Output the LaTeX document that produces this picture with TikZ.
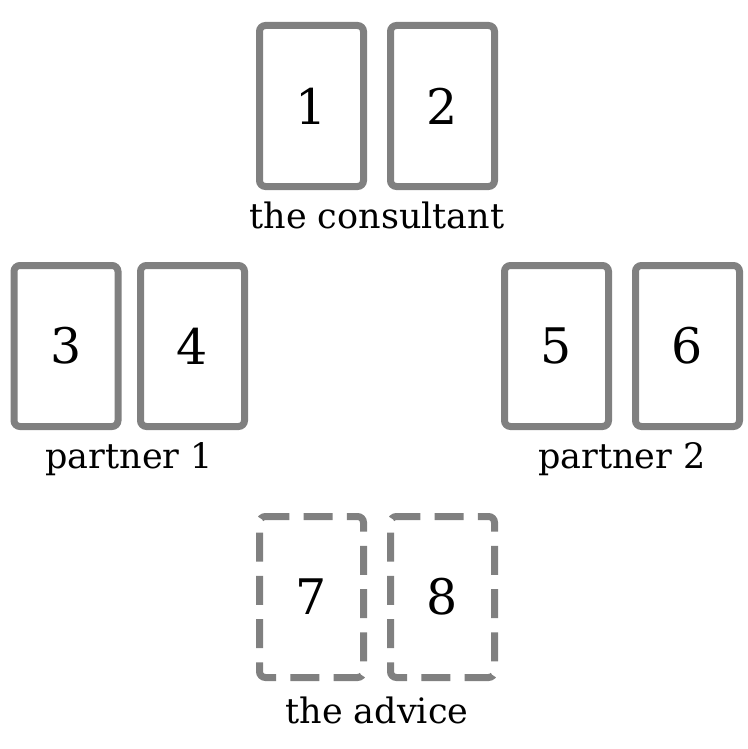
\documentclass[tikz,border=0pt]{standalone}
\usepackage{fontspec}
\setmainfont{DejaVu Serif}
\usetikzlibrary{calc}
\definecolor{cardgray}{gray}{0.5}
\newcommand{\unitsize}{1pt}

\begin{document}
\begin{tikzpicture}[x=\unitsize,y=-\unitsize,
	card/.style={draw=cardgray, line width=7pt, rounded corners=6pt, minimum width=104pt, minimum height=161pt, inner sep=0pt, font=\fontsize{49}{49}\selectfont},
	advicecard/.style={card, draw=none, outer sep=0pt},
	adviceline/.style={draw=cardgray, line width=7pt, rounded corners=6pt, dash pattern=on 29pt off 14.3pt, dash phase=33.3pt},
	caption/.style={anchor=base, inner sep=0pt, font=\fontsize{35}{35}\selectfont}]
	\useasboundingbox (0,0) rectangle (747,749);
	\node[card] (C1) at (311.5,106) {1};
	\node[card] (C2) at (442.5,106) {2};
	\node[card] (C3) at (66,346) {3};
	\node[card] (C4) at (192.5,346) {4};
	\node[card] (C5) at (556.5,346) {5};
	\node[card] (C6) at (687.5,346) {6};
	\node[advicecard] (C7) at (311.5,597) {7};
	\node[advicecard] (C8) at (442.5,597) {8};

	% dashed borders, running down from the top left corner
	\draw[adviceline] (C7.north west) -- (C7.south west) -- (C7.south east) -- (C7.north east) -- cycle;
	\draw[adviceline] (C8.north west) -- (C8.south west) -- (C8.south east) -- (C8.north east) -- cycle;

	\node[caption] (consultant) at ($(C1)!0.5!(C2)+(0,122)$) {the consultant};
	\node[caption] (partnerA) at ($(C3)!0.5!(C4)+(0,122)$) {partner 1};
	\node[caption] (partnerB) at ($(C5)!0.5!(C6)+(0,122)$) {partner 2};
	\node[caption] (advice) at ($(C7)!0.5!(C8)+(0,126)$) {the advice};
\end{tikzpicture}
\end{document}
